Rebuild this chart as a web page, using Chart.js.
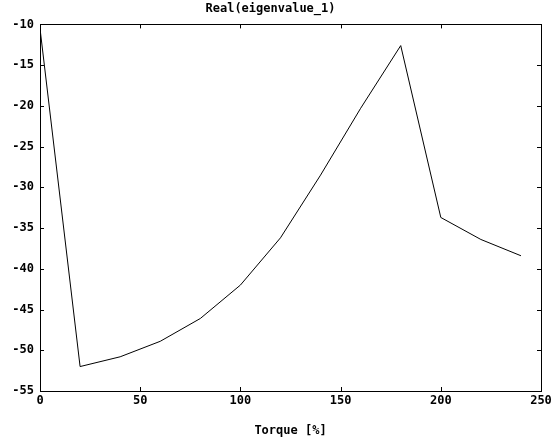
<!DOCTYPE html>
<html>
<head>
<meta charset="utf-8">
<script src="https://cdn.jsdelivr.net/npm/chart.js@4/dist/chart.umd.min.js"></script>
<style>
  html, body { margin: 0; padding: 0; background: #fff; }
  #wrap { width: 551px; height: 438px; }
</style>
</head>
<body>
<div id="wrap"><canvas id="c" width="551" height="438"></canvas></div>
<script>
const torque = [0, 20, 40, 60, 80, 100, 120, 140, 160, 180, 200, 220, 240];
const realEig1 = [-10.5, -52.0, -50.8, -48.9, -46.1, -42.0, -36.2, -28.5, -20.3, -12.6, -33.7, -36.4, -38.4];
const xTicks = [0, 50, 100, 150, 200, 250];
const yTicks = [-55, -50, -45, -40, -35, -30, -25, -20, -15, -10];
const titleText = 'Real(eigenvalue_1)';
const xLabel = 'Torque [%]';

const FONT = '"DejaVu Sans Mono", monospace';
const fmt = v => String(v);

const frameTicks = {
  id: 'frameTicks',
  afterDraw(chart) {
    const { ctx, chartArea: a, scales } = chart;
    const xs = scales.x, ys = scales.y;
    ctx.save();
    ctx.strokeStyle = '#000';
    ctx.lineWidth = 1;
    ctx.strokeRect(Math.round(a.left) + 0.5, Math.round(a.top) + 0.5,
                   Math.round(a.right - a.left), Math.round(a.bottom - a.top));
    const L = 4;
    ctx.beginPath();
    xTicks.forEach(v => {
      const px = Math.round(xs.getPixelForValue(v)) + 0.5;
      ctx.moveTo(px, a.bottom); ctx.lineTo(px, a.bottom - L);
      ctx.moveTo(px, a.top); ctx.lineTo(px, a.top + L);
    });
    yTicks.forEach(v => {
      const py = Math.round(ys.getPixelForValue(v)) + 0.5;
      ctx.moveTo(a.left, py); ctx.lineTo(a.left + L, py);
      ctx.moveTo(a.right, py); ctx.lineTo(a.right - L, py);
    });
    ctx.stroke();
    ctx.restore();
  }
};

new Chart(document.getElementById('c'), {
  type: 'line',
  data: {
    datasets: [{
      data: torque.map((t, i) => ({ x: t, y: realEig1[i] })),
      borderColor: '#000',
      borderWidth: 1,
      pointRadius: 0,
      tension: 0,
      fill: false
    }]
  },
  options: {
    responsive: false,
    animation: false,
    devicePixelRatio: 1,
    layout: { padding: { left: 0, right: 10, top: 0, bottom: 0 } },
    plugins: {
      legend: { display: false },
      tooltip: { enabled: false },
      title: {
        display: true,
        text: titleText,
        color: '#000',
        font: { family: FONT, size: 12, weight: 'bold' },
        padding: { top: 2, bottom: 8 }
      }
    },
    scales: {
      x: {
        type: 'linear',
        min: 0, max: 250,
        afterBuildTicks: s => { s.ticks = xTicks.map(v => ({ value: v })); },
        ticks: {
          color: '#000',
          font: { family: FONT, size: 12, weight: 'bold' },
          padding: 3,
          maxRotation: 0,
          callback: v => fmt(v)
        },
        grid: { display: false, drawTicks: false },
        border: { display: false },
        title: {
          display: true,
          text: xLabel,
          color: '#000',
          font: { family: FONT, size: 12, weight: 'bold' },
          padding: { top: 8, bottom: 0 }
        },
        afterFit: s => { s.height = 47; s.paddingRight = 0; s.paddingLeft = 0; }
      },
      y: {
        type: 'linear',
        min: -55, max: -10,
        afterBuildTicks: s => { s.ticks = yTicks.map(v => ({ value: v })); },
        ticks: {
          color: '#000',
          font: { family: FONT, size: 12, weight: 'bold' },
          padding: 6,
          callback: v => fmt(v)
        },
        grid: { display: false, drawTicks: false },
        border: { display: false },
        afterFit: s => { s.width = 40; }
      }
    }
  },
  plugins: [frameTicks]
});
</script>
</body>
</html>
